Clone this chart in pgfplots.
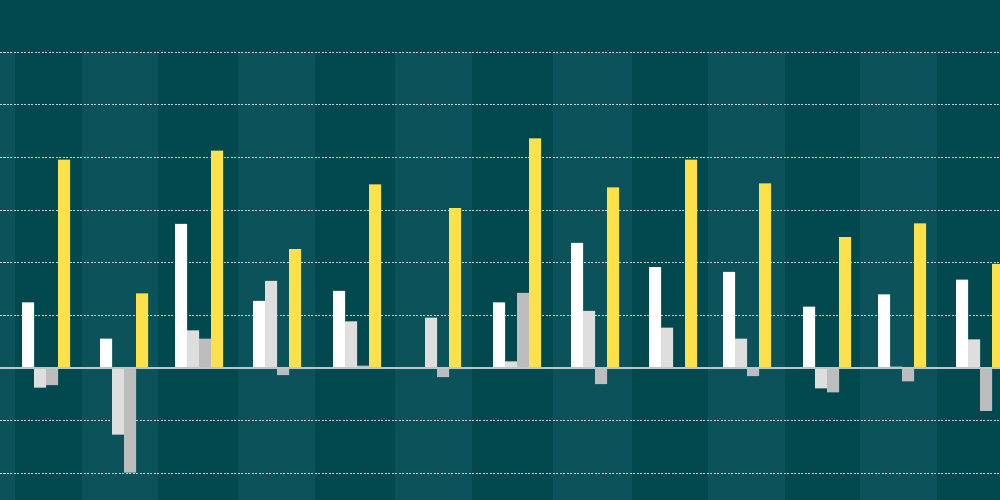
\documentclass[border=0pt]{standalone}
\usepackage{pgfplots}
\pgfplotsset{compat=1.18}

\definecolor{bgdark}{HTML}{02494F}
\definecolor{bglight}{HTML}{0B525A}
\definecolor{barwhite}{HTML}{FFFFFF}
\definecolor{barlight}{HTML}{DEDEDE}
\definecolor{bargray}{HTML}{BDBDBD}
\definecolor{baryellow}{HTML}{FDE14B}
\definecolor{zeroline}{HTML}{B9C7C7}

\begin{document}
\begin{tikzpicture}
  % 1 px = 0.1 mm, picture is 1000 x 500 px
  \fill[bgdark] (0,0) rectangle (10cm,5cm);
  \begin{axis}[
      at={(0,0)}, anchor=south west,
      width=10cm, height=4.48cm, scale only axis,
      set layers,
      xmin=0.4087, xmax=13.262,
      ymin=-2.5, ymax=6,
      axis line style={draw=none},
      xtick=\empty, ytick=\empty,
      clip=true,
      ybar, bar width=0.1542,
      every axis plot/.append style={draw=none},
    ]
    % alternating column bands (lighter ones)
    \foreach \a/\b in {0.30/0.6015, 1.4627/2.4396, 3.4679/4.4576,
        5.4859/6.4756, 7.5167/8.5321, 9.5090/10.4987, 11.4627/12.4524}{
      \edef\temp{\noexpand\fill[bglight, on layer=axis background]
        (axis cs:\a,-2.5) rectangle (axis cs:\b,6);}
      \temp
    }
    % dotted horizontal grid
    \pgfplotsinvokeforeach{-2,-1,1,2,3,4,5,6}{
      \draw[white, opacity=0.75, line width=0.3pt,
            dash pattern=on 0.2mm off 0.15mm, on layer=axis grid]
        (axis cs:0.4087,#1) -- (axis cs:13.262,#1);
    }

    \addplot[fill=barwhite, bar shift=-0.2314] coordinates {
      (1,1.25) (2.0026,0.56) (2.9666,2.74) (3.9692,1.28) (4.9974,1.47)
      (6.0257,0.00) (7.0540,1.25) (8.0566,2.38) (9.0591,1.92)
      (10.0103,1.83) (11.0386,1.17) (12.0026,1.40) (13.0051,1.68)
    };
    \addplot[fill=barlight, bar shift=-0.0771] coordinates {
      (1,-0.37) (2.0026,-1.26) (2.9666,0.72) (3.9692,1.66) (4.9974,0.89)
      (6.0257,0.96) (7.0540,0.13) (8.0566,1.09) (9.0591,0.77)
      (10.0103,0.56) (11.0386,-0.38) (12.0026,0.03) (13.0051,0.55)
    };
    \addplot[fill=bargray, bar shift=0.0771] coordinates {
      (1,-0.32) (2.0026,-1.98) (2.9666,0.56) (3.9692,-0.13) (4.9974,0.05)
      (6.0257,-0.17) (7.0540,1.43) (8.0566,-0.30) (9.0591,0.00)
      (10.0103,-0.15) (11.0386,-0.46) (12.0026,-0.25) (13.0051,-0.81)
    };
    \addplot[fill=baryellow, bar shift=0.2314] coordinates {
      (1,3.96) (2.0026,1.42) (2.9666,4.13) (3.9692,2.26) (4.9974,3.49)
      (6.0257,3.04) (7.0540,4.36) (8.0566,3.43) (9.0591,3.96)
      (10.0103,3.51) (11.0386,2.49) (12.0026,2.75) (13.0051,1.98)
    };

    \draw[zeroline, line width=0.55pt] (axis cs:0.4087,0) -- (axis cs:13.262,0);
  \end{axis}
\end{tikzpicture}
\end{document}
